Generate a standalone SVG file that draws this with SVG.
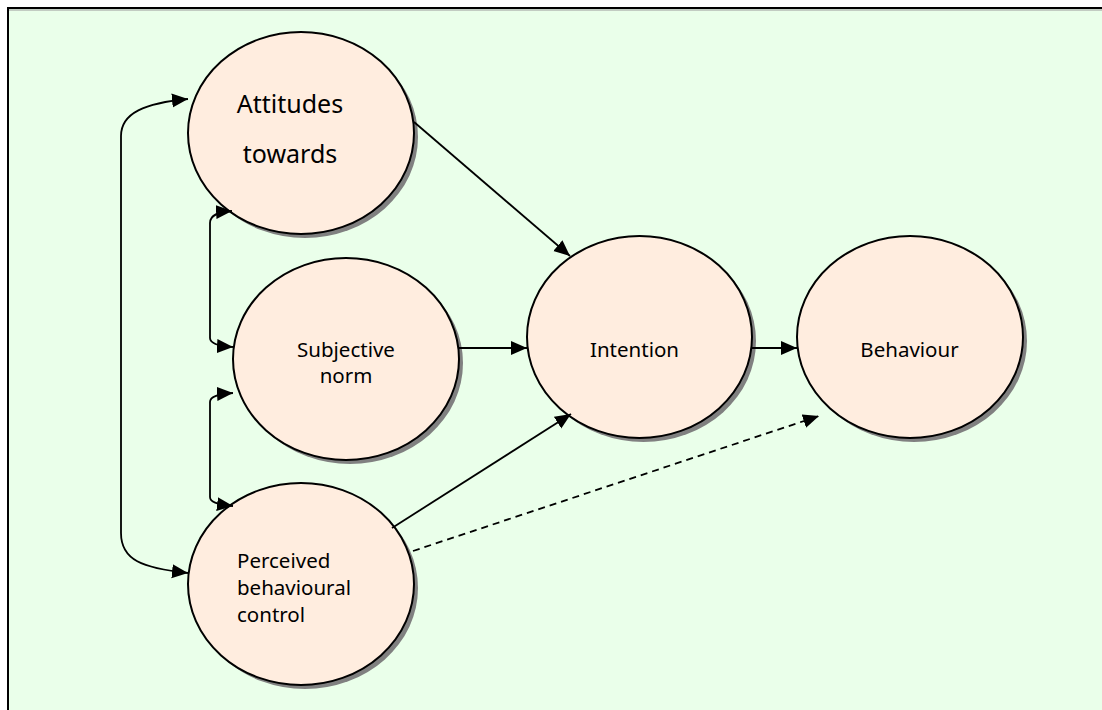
<svg xmlns="http://www.w3.org/2000/svg" width="1102" height="710" viewBox="0 0 1102 710">
  <style>
    .node ellipse.body { fill: #FFEDDF; stroke: #000; stroke-width: 2; }
    .node ellipse.shade { fill: #808080; }
    .label { font-family: "Noto Sans", "DejaVu Sans", sans-serif; font-size: 20.5px; fill: #000; }
    .big { font-size: 25px; }
    .link { fill: none; stroke: #000; stroke-width: 1.8; }
    .dashed { stroke-dasharray: 7 5; }
  </style>
  <defs>
    <marker id="arrow" markerUnits="userSpaceOnUse" markerWidth="17" markerHeight="15" refX="16" refY="7" orient="auto-start-reverse">
      <path d="M0,0 L16,7 L0,14 Z" fill="#000" stroke="none"/>
    </marker>
  </defs>

  <!-- page background with frame -->
  <rect x="0" y="0" width="1102" height="710" fill="#fff"/>
  <rect x="8" y="8" width="1200" height="800" fill="#EAFFEA" stroke="#000" stroke-width="2"/>
  <line x1="9" y1="10" x2="1102" y2="10" stroke="#9a9a9a" stroke-width="1"/>

  <!-- nodes -->
  <g id="attitudes" class="node">
    <ellipse class="shade" cx="305" cy="137" rx="113" ry="101"/>
    <ellipse class="body" cx="301" cy="133" rx="113" ry="101"/>
    <text class="label big" x="290" y="113" text-anchor="middle">Attitudes</text>
    <text class="label big" x="290" y="163" text-anchor="middle">towards</text>
  </g>

  <g id="subjective-norm" class="node">
    <ellipse class="shade" cx="350" cy="363" rx="113" ry="101"/>
    <ellipse class="body" cx="346" cy="359" rx="113" ry="101"/>
    <text class="label" x="346" y="357" text-anchor="middle">Subjective</text>
    <text class="label" x="346" y="383" text-anchor="middle">norm</text>
  </g>

  <g id="perceived-control" class="node">
    <ellipse class="shade" cx="305" cy="588" rx="113" ry="101"/>
    <ellipse class="body" cx="301" cy="584" rx="113" ry="101"/>
    <text class="label" x="237" y="568">Perceived</text>
    <text class="label" x="237" y="595">behavioural</text>
    <text class="label" x="237" y="622">control</text>
  </g>

  <g id="intention" class="node">
    <ellipse class="shade" cx="643.5" cy="341" rx="112.5" ry="101"/>
    <ellipse class="body" cx="639.5" cy="337" rx="112.5" ry="101"/>
    <text class="label" x="634.5" y="357" text-anchor="middle">Intention</text>
  </g>

  <g id="behaviour" class="node">
    <ellipse class="shade" cx="914" cy="341" rx="113" ry="101"/>
    <ellipse class="body" cx="910" cy="337" rx="113" ry="101"/>
    <text class="label" x="909.5" y="357" text-anchor="middle">Behaviour</text>
  </g>

  <!-- connectors -->
  <g id="connectors">
    <line class="link" x1="414" y1="122" x2="570" y2="256" marker-end="url(#arrow)"/>
    <line class="link" x1="459" y1="348" x2="527" y2="348" marker-end="url(#arrow)"/>
    <line class="link" x1="752" y1="348" x2="797" y2="348" marker-end="url(#arrow)"/>
    <line class="link" x1="392" y1="528" x2="571" y2="414" marker-end="url(#arrow)"/>
    <line class="link dashed" x1="413" y1="551" x2="819" y2="416" marker-end="url(#arrow)"/>

    <!-- correlations between the three antecedents -->
    <path class="link" d="M188,99 C145,103 121,113 121,136 L121,533 C121,560 142,568 188,573" marker-start="url(#arrow)" marker-end="url(#arrow)"/>
    <path class="link" d="M232,211 C218,212 210,215 210,223 L210,338 C210,343 216,346 233,347" marker-start="url(#arrow)" marker-end="url(#arrow)"/>
    <path class="link" d="M233,393 C216,394 210,397 210,402 L210,497 C210,502 216,504 233,506" marker-start="url(#arrow)" marker-end="url(#arrow)"/>
  </g>
</svg>
